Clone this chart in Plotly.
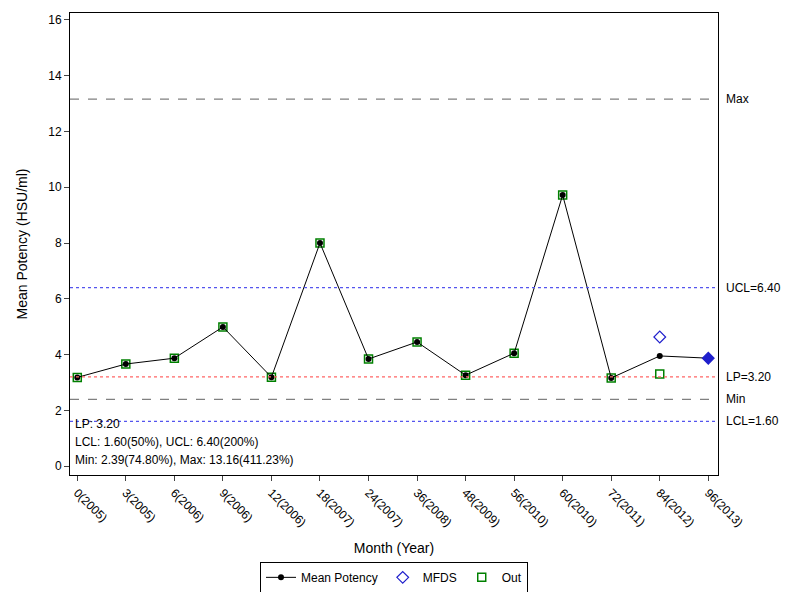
import plotly.graph_objects as go

months = ["0(2005)", "3(2005)", "6(2006)", "9(2006)", "12(2006)", "18(2007)", "24(2007)",
          "36(2008)", "48(2009)", "56(2010)", "60(2010)", "72(2011)", "84(2012)", "96(2013)"]
mean_potency = [3.18, 3.66, 3.87, 4.99, 3.19, 8.00, 3.84, 4.45, 3.26, 4.05, 9.72, 3.16, 3.95, 3.87]
mfds_months = ["84(2012)", "96(2013)"]
mfds_values = [4.63, 3.87]
out_months = months[:13]
out_values = mean_potency[:12] + [3.30]

lp, lcl, ucl, vmin, vmax = 3.20, 1.60, 6.40, 2.39, 13.16
info_lines = ["LP: 3.20", "LCL: 1.60(50%), UCL: 6.40(200%)", "Min: 2.39(74.80%), Max: 13.16(411.23%)"]
info_y = [1.51, 0.86, 0.22]

font = "Liberation Sans, Arial, sans-serif"

fig = go.Figure()

# reference lines
ref_lines = [
    (vmax, "#808080", "dash", "Max"),
    (ucl, "#5555ee", "dot", "UCL=6.40"),
    (lp, "#ff6666", "dot", "LP=3.20"),
    (vmin, "#808080", "dash", "Min"),
    (lcl, "#5555ee", "dot", "LCL=1.60"),
]
for val, color, dash, label in ref_lines:
    fig.add_shape(type="line", xref="paper", x0=0, x1=1, yref="y", y0=val, y1=val,
                  line=dict(color=color, width=1.3, dash=dash))
    fig.add_annotation(xref="paper", x=1.01, xanchor="left", yref="y", y=val,
                       text=label, showarrow=False, font=dict(size=12, color="black"))

fig.add_trace(go.Scatter(
    x=out_months, y=out_values, mode="markers", name="Out", legendrank=3,
    marker=dict(symbol="square-open", color="#008000", size=8, line=dict(width=1.5)),
))
fig.add_trace(go.Scatter(
    x=months, y=mean_potency, mode="lines+markers", name="Mean Potency", legendrank=1,
    line=dict(color="black", width=1),
    marker=dict(symbol="circle", color="black", size=6),
))
fig.add_trace(go.Scatter(
    x=mfds_months, y=mfds_values, mode="markers", name="MFDS", legendrank=2,
    marker=dict(symbol=["diamond-open", "diamond"], color="#1f1fcc", size=9,
                line=dict(width=1.2, color="#1f1fcc")),
))

for txt, yv in zip(info_lines, info_y):
    fig.add_annotation(xref="paper", yref="y", x=0.005, y=yv, xanchor="left",
                       yanchor="middle", showarrow=False, text=txt,
                       font=dict(size=12, color="black"))

# page has an 8px body margin, so the figure is 784x584
fig.update_layout(
    width=784, height=584,
    paper_bgcolor="white", plot_bgcolor="white",
    font=dict(family=font, size=12, color="black"),
    margin=dict(l=62, r=74, t=5, b=117, autoexpand=False),
    legend=dict(orientation="h", x=0.5, xanchor="center", y=-0.188, yanchor="top",
                bordercolor="black", borderwidth=1, font=dict(size=12),
                itemwidth=30, tracegroupgap=0),
)
fig.update_xaxes(
    type="category", categoryorder="array", categoryarray=months,
    range=[-0.15, 13.2], tickangle=45, ticks="outside", ticklen=5, automargin=False,
    showline=True, linecolor="black", mirror=True, showgrid=False,
    title=dict(text="Month (Year)", font=dict(size=14), standoff=14),
)
fig.update_yaxes(
    range=[-0.32, 16.25], tickvals=[0, 2, 4, 6, 8, 10, 12, 14, 16],
    ticks="outside", ticklen=5, showline=True, linecolor="black", mirror=True,
    showgrid=False, zeroline=False, automargin=False,
    title=dict(text="Mean Potency (HSU/ml)", font=dict(size=14), standoff=17),
)

fig.write_html("out.html")
